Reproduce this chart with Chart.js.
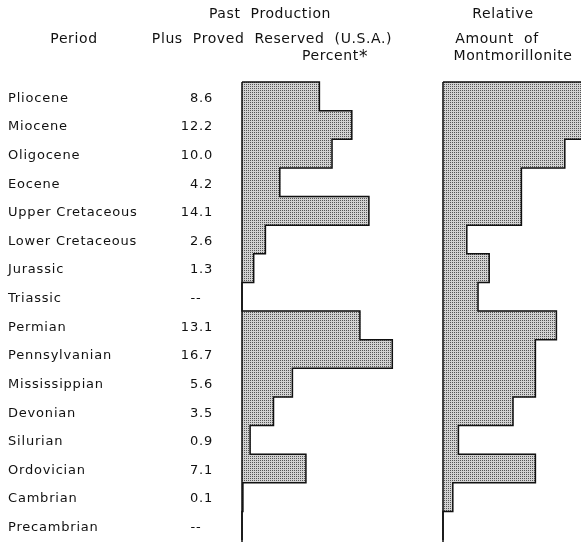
<!DOCTYPE html>
<html>
<head>
<meta charset="utf-8">
<script src="https://cdn.jsdelivr.net/npm/chart.js@4"></script>
<style>
  body { margin: 0; background: #fff; }
  #wrap { position: relative; width: 581px; height: 542px; overflow: hidden; }
  canvas { position: absolute; left: 0; top: 0; }
  .hd { position: absolute; font-family: "DejaVu Sans", sans-serif; font-size: 14px;
        letter-spacing: 0.6px; color: #111; white-space: nowrap; transform: translateX(-50%); line-height: 16px; }
  .ast { font-size: 17px; vertical-align: -2px; }
</style>
</head>
<body>
<div id="wrap">
  <canvas id="grafico" width="581" height="542"></canvas>
  <div class="hd" style="left:74px; top:30px;">Period</div>
  <div class="hd" style="left:270px; top:5px;">Past&nbsp;&nbsp;Production</div>
  <div class="hd" style="left:272px; top:30px;">Plus&nbsp; Proved&nbsp; Reserved&nbsp; (U.S.A.)</div>
  <div class="hd" style="left:335px; top:47px;">Percent<span class="ast">*</span></div>
  <div class="hd" style="left:503px; top:5px;">Relative</div>
  <div class="hd" style="left:497px; top:30px;">Amount&nbsp; of</div>
  <div class="hd" style="left:513px; top:47px;">Montmorillonite</div>
</div>
<script>
const periodos = ["Pliocene", "Miocene", "Oligocene", "Eocene", "Upper Cretaceous",
  "Lower Cretaceous", "Jurassic", "Triassic", "Permian", "Pennsylvanian",
  "Mississippian", "Devonian", "Silurian", "Ordovician", "Cambrian", "Precambrian"];
// percent of past production plus proved reserves (null = "--")
const produccion = [8.6, 12.2, 10.0, 4.2, 14.1, 2.6, 1.3, null, 13.1, 16.7, 5.6, 3.5, 0.9, 7.1, 0.1, null];
// relative amount of montmorillonite (arbitrary units)
const montmorillonita = [10, 10, 8.7, 5.6, 5.6, 1.7, 3.3, 2.5, 8.1, 6.6, 6.6, 5.0, 1.1, 6.6, 0.7, 0];

const fuente = '"DejaVu Sans", sans-serif';

// stipple fill like the printed screen
function patron() {
  const c = document.createElement("canvas");
  c.width = 2;
  c.height = 2;
  const g = c.getContext("2d");
  g.fillStyle = "#d2d2d2";
  g.fillRect(0, 0, 2, 2);
  g.fillStyle = "#555";
  g.fillRect(0, 0, 1, 1);
  return g.createPattern(c, "repeat");
}
const relleno = patron();

// outer step contour of each histogram + baseline
const plugin_contorno = {
  id: "contorno",
  afterDatasetsDraw(chart) {
    const ctx = chart.ctx;
    ctx.save();
    ctx.strokeStyle = "#111";
    ctx.lineWidth = 1.5;
    chart.data.datasets.forEach((ds, di) => {
      const bars = chart.getDatasetMeta(di).data;
      const base = bars[0].base;
      ctx.beginPath();
      ctx.moveTo(base, bars[0].y - bars[0].height / 2);
      bars.forEach((b) => {
        ctx.lineTo(b.x, b.y - b.height / 2);
        ctx.lineTo(b.x, b.y + b.height / 2);
      });
      const last = bars[bars.length - 1];
      ctx.lineTo(base, last.y + last.height / 2);
      ctx.stroke();
      ctx.beginPath();
      ctx.moveTo(base, bars[0].y - bars[0].height / 2);
      ctx.lineTo(base, chart.height);
      ctx.stroke();
    });
    ctx.restore();
  },
  afterDraw(chart) {
    const ctx = chart.ctx;
    const y = chart.scales.y;
    ctx.save();
    ctx.fillStyle = "#111";
    ctx.font = "13px " + fuente;
    ctx.letterSpacing = "0.8px";
    ctx.textBaseline = "middle";
    periodos.forEach((p, i) => {
      const py = y.getPixelForValue(i) + 2;
      ctx.textAlign = "left";
      ctx.fillText(p, 8, py);
      const v = produccion[i];
      if (v === null) {
        ctx.textAlign = "center";
        ctx.fillText("--", 196, py);
      } else {
        ctx.textAlign = "right";
        ctx.fillText(v.toFixed(1), 213, py);
      }
    });
    ctx.restore();
  },
};

const ctx = document.getElementById("grafico").getContext("2d");
const chart_periodos = new Chart(ctx, {
  type: "bar",
  data: {
    labels: periodos,
    datasets: [
      {
        label: "Production plus reserves",
        data: produccion.map((v) => v ?? 0),
        xAxisID: "x1",
        backgroundColor: relleno,
        borderWidth: 0,
        grouped: false,
        barPercentage: 1,
        categoryPercentage: 1,
      },
      {
        label: "Montmorillonite",
        data: montmorillonita,
        xAxisID: "x2",
        backgroundColor: relleno,
        borderWidth: 0,
        grouped: false,
        barPercentage: 1,
        categoryPercentage: 1,
      },
    ],
  },
  options: {
    indexAxis: "y",
    responsive: false,
    animation: false,
    layout: { padding: { top: 82, bottom: 2, left: 0, right: 0 } },
    scales: {
      y: { display: false, offset: true },
      // 0 at x=242, 9 px per percent
      x1: { type: "linear", display: false, min: -242 / 9, max: (581 - 242) / 9 },
      // 0 at x=443, 14 px per unit
      x2: { type: "linear", display: false, min: -443 / 14, max: (581 - 443) / 14 },
    },
    plugins: {
      legend: { display: false },
      tooltip: { enabled: false },
    },
  },
  plugins: [plugin_contorno],
});
</script>
</body>
</html>
